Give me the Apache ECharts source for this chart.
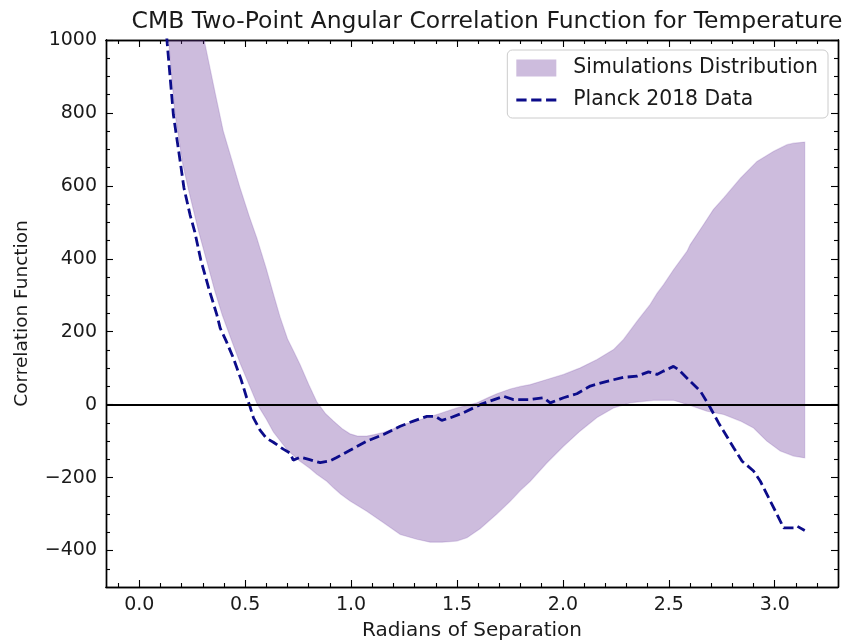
<!DOCTYPE html>
<html>
<head>
<meta charset="utf-8">
<script src="https://cdn.jsdelivr.net/npm/echarts@6/dist/echarts.min.js"></script>
<style>
  html, body { margin: 0; padding: 0; background: #ffffff; }
  #chart { width: 845px; height: 641px; }
</style>
</head>
<body>
<div id="chart"></div>
<script>
// Angular separation range (radians) and tick positions
const X_MIN = -Math.PI * 0.05;
const X_MAX = Math.PI * 1.05;
const Y_MIN = -500;
const Y_MAX = 1000;
const xMajorTicks = [0, 0.5, 1.0, 1.5, 2.0, 2.5, 3.0];
const xMinorTicks = [-0.1, 0.1, 0.2, 0.3, 0.4, 0.6, 0.7, 0.8, 0.9, 1.1, 1.2, 1.3, 1.4, 1.6, 1.7, 1.8, 1.9,
                     2.1, 2.2, 2.3, 2.4, 2.6, 2.7, 2.8, 2.9, 3.1, 3.2];
const yMajorTicks = [-400, -200, 0, 200, 400, 600, 800, 1000];
const yMinorTicks = [-450, -350, -300, -250, -150, -100, -50, 50, 100, 150, 250, 300, 350, 450, 500, 550,
                     650, 700, 750, 850, 900, 950];

// Upper edge of the simulated distribution: [theta, C(theta)]
const simUpper = [
  [0.0, 3200], [0.1, 2050], [0.2, 1380], [0.25, 1160], [0.31, 990], [0.36, 850], [0.397, 749],
  [0.44, 665], [0.476, 594], [0.52, 515], [0.555, 457], [0.60, 372], [0.635, 300], [0.665, 240],
  [0.70, 180], [0.73, 145], [0.759, 110], [0.80, 55], [0.838, 8], [0.88, -25], [0.917, -45],
  [0.96, -67], [0.995, -80], [1.03, -86], [1.074, -86], [1.11, -82], [1.153, -76], [1.20, -66],
  [1.232, -57], [1.31, -44], [1.405, -27], [1.499, -9], [1.594, 5], [1.65, 20], [1.688, 30],
  [1.751, 43], [1.80, 50], [1.846, 55], [1.924, 69], [2.003, 83], [2.082, 101], [2.161, 124],
  [2.239, 151], [2.286, 179], [2.35, 229], [2.412, 275], [2.444, 305], [2.475, 329], [2.522, 370],
  [2.586, 421], [2.601, 439], [2.664, 494], [2.71, 535], [2.759, 567], [2.838, 621], [2.916, 667],
  [2.995, 695], [3.058, 713], [3.089, 717], [3.1416, 720]
];

// Lower edge of the simulated distribution
const simLower = [
  [0.0, 2500], [0.06, 1700], [0.10, 1300], [0.138, 1000], [0.168, 800], [0.205, 660], [0.232, 590],
  [0.28, 475], [0.32, 390], [0.357, 311], [0.392, 245], [0.437, 174], [0.475, 115], [0.518, 55],
  [0.558, 0], [0.60, -40], [0.633, -75], [0.70, -125], [0.759, -155], [0.806, -175], [0.838, -191],
  [0.885, -210], [0.917, -228], [0.95, -245], [0.995, -264], [1.074, -292], [1.153, -324],
  [1.232, -356], [1.31, -369], [1.373, -377], [1.43, -377], [1.499, -374], [1.547, -365],
  [1.609, -340], [1.688, -300], [1.751, -265], [1.80, -235], [1.846, -210], [1.924, -160],
  [2.003, -114], [2.082, -72], [2.161, -35], [2.239, -9], [2.318, 5], [2.428, 12], [2.522, 12],
  [2.601, -2], [2.68, -18], [2.759, -27], [2.838, -45], [2.900, -64], [2.963, -100], [3.026, -127],
  [3.089, -141], [3.1416, -146]
];

// Planck 2018 measured correlation function
const planck2018 = [
  [0.0, 2400], [0.05, 1800], [0.1, 1250], [0.132, 990], [0.161, 795], [0.19, 680], [0.211, 594],
  [0.24, 520], [0.262, 474], [0.29, 398], [0.33, 315], [0.366, 247], [0.382, 210], [0.41, 175],
  [0.444, 128], [0.48, 70], [0.507, 19], [0.52, 0], [0.539, -36], [0.57, -70], [0.60, -92],
  [0.633, -103], [0.68, -122], [0.712, -133], [0.727, -152], [0.759, -144], [0.80, -150],
  [0.854, -159], [0.90, -154], [0.932, -145], [0.995, -125], [1.074, -100], [1.153, -82],
  [1.232, -59], [1.294, -45], [1.358, -32], [1.397, -32], [1.428, -43], [1.468, -36], [1.531, -22],
  [1.609, 0], [1.657, 10], [1.72, 23], [1.767, 14], [1.846, 14], [1.908, 19], [1.94, 5],
  [2.003, 19], [2.066, 30], [2.129, 51], [2.208, 64], [2.286, 75], [2.35, 78], [2.404, 90],
  [2.444, 83], [2.475, 92], [2.522, 105], [2.546, 96], [2.601, 64], [2.649, 37], [2.688, 0],
  [2.735, -50], [2.759, -73], [2.806, -118], [2.846, -155], [2.900, -182], [2.932, -210],
  [2.971, -255], [3.011, -301], [3.042, -338], [3.089, -338], [3.105, -333], [3.1416, -345]
];

const FONT = 'DejaVu Sans';
const TEXT_COLOR = '#1a1a1a';
const BAND_FILL = 'rgba(102, 51, 153, 0.33)';
const BAND_EDGE = 'rgba(102, 51, 153, 0.18)';
const PLANCK_COLOR = '#0c0c8a';
// Legend glyph: three dashes of the data line
const DASH_ICON = 'path://M0,0H10V2.8H0Z M14.5,0H24.5V2.8H14.5Z M29,0H39V2.8H29Z';

const chart = echarts.init(document.getElementById('chart'), null, { renderer: 'canvas' });

// Shared pieces for the boxed, inward-ticked axes
function xAxisDef(position, ticks, len, withLabels, withName) {
  return {
    type: 'value', position: position, min: X_MIN, max: X_MAX,
    axisLine: { show: true, onZero: false, lineStyle: { color: '#000', width: 1.4 } },
    axisTick: { show: true, inside: true, length: len, customValues: ticks,
                lineStyle: { color: '#000', width: 1.1 } },
    axisLabel: withLabels ? {
      show: true, customValues: ticks, margin: 9, fontFamily: FONT, fontSize: 19, color: TEXT_COLOR,
      formatter: v => v.toFixed(1)
    } : { show: false },
    splitLine: { show: false },
    name: withName ? 'Radians of Separation' : '',
    nameLocation: 'middle', nameGap: 34,
    nameTextStyle: { fontFamily: FONT, fontSize: 20, color: TEXT_COLOR }
  };
}
function yAxisDef(position, ticks, len, withLabels, withName) {
  return {
    type: 'value', position: position, min: Y_MIN, max: Y_MAX,
    axisLine: { show: true, onZero: false, lineStyle: { color: '#000', width: 1.4 } },
    axisTick: { show: true, inside: true, length: len, customValues: ticks,
                lineStyle: { color: '#000', width: 1.1 } },
    axisLabel: withLabels ? {
      show: true, customValues: ticks, margin: 9, fontFamily: FONT, fontSize: 19, color: TEXT_COLOR,
      formatter: v => (v < 0 ? '\u2212' + Math.abs(v) : String(v))
    } : { show: false },
    splitLine: { show: false },
    name: withName ? 'Correlation Function' : '',
    nameLocation: 'middle', nameGap: 74,
    nameTextStyle: { fontFamily: FONT, fontSize: 18.5, color: TEXT_COLOR }
  };
}

const option = {
  animation: false,
  backgroundColor: '#ffffff',
  title: {
    text: 'CMB Two-Point Angular Correlation Function for Temperature',
    left: 482, top: 5, textAlign: 'center',
    textStyle: { fontFamily: FONT, fontSize: 23.5, fontWeight: 'normal', color: TEXT_COLOR }
  },
  grid: { left: 106, right: 7, top: 40, bottom: 54, containLabel: false, outerBoundsMode: 'none' },
  legend: {
    orient: 'vertical', right: 17, top: 50,
    backgroundColor: 'rgba(255,255,255,0.9)', borderColor: '#cccccc', borderWidth: 1, borderRadius: 5,
    padding: [8, 10, 8, 9], itemGap: 12, itemWidth: 40, itemHeight: 17,
    textStyle: { fontFamily: FONT, fontSize: 20.4, color: TEXT_COLOR, padding: [0, 0, 0, 12] },
    data: [
      { name: 'Simulations Distribution', icon: 'rect', itemStyle: { color: BAND_FILL, borderWidth: 0 } },
      { name: 'Planck 2018 Data', icon: DASH_ICON, itemStyle: { color: PLANCK_COLOR } }
    ]
  },
  xAxis: [
    xAxisDef('bottom', xMajorTicks, 7, true, true),
    xAxisDef('bottom', xMinorTicks, 4, false, false),
    xAxisDef('top', xMajorTicks, 7, false, false),
    xAxisDef('top', xMinorTicks, 4, false, false)
  ],
  yAxis: [
    yAxisDef('left', yMajorTicks, 7, true, true),
    yAxisDef('left', yMinorTicks, 4, false, false),
    yAxisDef('right', yMajorTicks, 7, false, false),
    yAxisDef('right', yMinorTicks, 4, false, false)
  ],
  series: [
    {
      // Shaded band between the lower and upper edges of the simulations
      name: 'Simulations Distribution',
      type: 'custom',
      clip: true,
      z: 1,
      silent: true,
      itemStyle: { color: BAND_FILL },
      data: [[0, 0]],
      renderItem: function (params, api) {
        const pts = [];
        for (let i = 0; i < simUpper.length; i++) pts.push(api.coord(simUpper[i]));
        for (let i = simLower.length - 1; i >= 0; i--) pts.push(api.coord(simLower[i]));
        return {
          type: 'polygon',
          shape: { points: pts },
          style: { fill: BAND_FILL, stroke: BAND_EDGE, lineWidth: 1.2 }
        };
      }
    },
    {
      // Horizontal reference line at zero correlation
      name: 'zero',
      type: 'line',
      z: 2,
      silent: true,
      data: [],
      markLine: {
        silent: true, symbol: 'none', animation: false,
        label: { show: false },
        lineStyle: { color: '#000', width: 2.2, type: 'solid' },
        data: [{ yAxis: 0 }]
      }
    },
    {
      name: 'Planck 2018 Data',
      type: 'line',
      z: 3,
      data: planck2018,
      showSymbol: false,
      symbol: 'none',
      smooth: false,
      clip: true,
      color: PLANCK_COLOR,
      lineStyle: { color: PLANCK_COLOR, width: 2.8, type: [10, 4.5] }
    }
  ]
};

chart.setOption(option);
</script>
</body>
</html>
